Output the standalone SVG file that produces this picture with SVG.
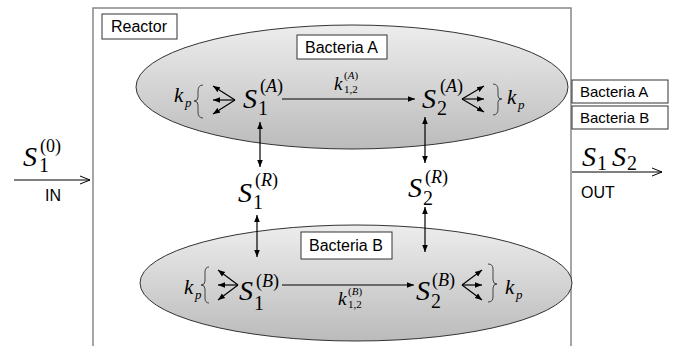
<svg xmlns="http://www.w3.org/2000/svg" width="675" height="346" viewBox="0 0 675 346">
  <style>
    .lbl { font-family: "Liberation Sans", Arial, sans-serif; font-size: 16px; fill: #000; }
    .leg { font-family: "Liberation Sans", Arial, sans-serif; font-size: 15px; fill: #000; }
    .box { fill: #fff; stroke: #333; stroke-width: 1; }
    .m { font-family: "Liberation Serif", "Times New Roman", serif; fill: #000; }
    .it { font-style: italic; }
    .big { font-size: 28px; font-style: italic; }
    .sub { font-size: 20px; }
    .sup { font-size: 18px; }
    .ln { stroke: #000; stroke-width: 1.2; fill: none; }
    .br { stroke: #444; stroke-width: 1; fill: none; }
    .cell { fill: url(#shade); stroke: #333; stroke-width: 1; }
  </style>
  <defs>
    <linearGradient id="shade" x1="0" y1="0" x2="0" y2="1">
      <stop offset="0" stop-color="#ededed"/>
      <stop offset="1" stop-color="#bbbbbb"/>
    </linearGradient>
    <marker id="ah" viewBox="0 0 10 10" refX="10" refY="5" markerWidth="7" markerHeight="7" orient="auto-start-reverse" markerUnits="userSpaceOnUse">
      <path d="M0,1 L10,5 L0,9 Z" fill="#000"/>
    </marker>
    <marker id="oh" viewBox="0 0 10 10" refX="10" refY="5" markerWidth="10" markerHeight="10" orient="auto" markerUnits="userSpaceOnUse">
      <path d="M0,1 L10,5 L0,9" fill="none" stroke="#000" stroke-width="1"/>
    </marker>
  </defs>

  <rect width="675" height="346" fill="#fff"/>

  <!-- reactor vessel -->
  <g id="reactor">
    <path d="M93,346 V8 H571 V346" fill="none" stroke="#888" stroke-width="1.5"/>
    <rect class="box" x="102" y="14" width="75" height="25"/>
    <text class="lbl" x="111" y="32">Reactor</text>
  </g>

  <!-- bacteria A cell -->
  <g id="bacteriaA">
    <ellipse class="cell" cx="352" cy="87" rx="216" ry="62"/>
    <rect class="box" x="297" y="35" width="90" height="24"/>
    <text class="lbl" x="305" y="53">Bacteria A</text>
  </g>

  <!-- bacteria B cell -->
  <g id="bacteriaB">
    <ellipse class="cell" cx="356" cy="283" rx="216" ry="58"/>
    <rect class="box" x="301" y="232" width="91" height="27"/>
    <text class="lbl" x="309" y="251">Bacteria B</text>
  </g>

  <!-- legend boxes -->
  <g id="legendA">
    <rect class="box" x="572" y="80" width="96" height="23"/>
    <text class="leg" x="580" y="97">Bacteria A</text>
  </g>
  <g id="legendB">
    <rect class="box" x="572" y="106" width="96" height="23"/>
    <text class="leg" x="580" y="123">Bacteria B</text>
  </g>

  <!-- feed and effluent -->
  <g id="S1in">
    <text class="m"><tspan class="big" x="23" y="166">S</tspan><tspan class="sub" x="39" y="172">1</tspan><tspan class="sup" x="40" y="152">(0)</tspan></text>
    <text class="lbl" x="45" y="201">IN</text>
  </g>
  <g id="Sout">
    <text class="m"><tspan class="big" x="582" y="166">S</tspan><tspan class="sub" x="597" y="170">1</tspan><tspan class="big" x="612" y="166">S</tspan><tspan class="sub" x="627" y="170">2</tspan></text>
    <text class="lbl" x="581" y="198">OUT</text>
  </g>

  <!-- substrate pools -->
  <g id="S1A">
    <text class="m"><tspan class="big" x="243" y="108">S</tspan><tspan class="sub" x="258" y="115">1</tspan><tspan class="sup" x="260" y="92">(</tspan><tspan class="sup it">A</tspan><tspan class="sup">)</tspan></text>
  </g>
  <g id="S2A">
    <text class="m"><tspan class="big" x="422" y="108">S</tspan><tspan class="sub" x="437" y="115">2</tspan><tspan class="sup" x="440" y="92">(</tspan><tspan class="sup it">A</tspan><tspan class="sup">)</tspan></text>
  </g>
  <g id="S1R">
    <text class="m"><tspan class="big" x="238" y="202">S</tspan><tspan class="sub" x="253" y="209">1</tspan><tspan class="sup" x="255" y="186">(</tspan><tspan class="sup it">R</tspan><tspan class="sup">)</tspan></text>
  </g>
  <g id="S2R">
    <text class="m"><tspan class="big" x="408" y="197">S</tspan><tspan class="sub" x="423" y="205">2</tspan><tspan class="sup" x="425" y="183">(</tspan><tspan class="sup it">R</tspan><tspan class="sup">)</tspan></text>
  </g>
  <g id="S1B">
    <text class="m"><tspan class="big" x="239" y="300">S</tspan><tspan class="sub" x="254" y="310">1</tspan><tspan class="sup" x="256" y="287">(</tspan><tspan class="sup it">B</tspan><tspan class="sup">)</tspan></text>
  </g>
  <g id="S2B">
    <text class="m"><tspan class="big" x="416" y="300">S</tspan><tspan class="sub" x="431" y="308">2</tspan><tspan class="sup" x="432" y="286">(</tspan><tspan class="sup it">B</tspan><tspan class="sup">)</tspan></text>
  </g>

  <!-- rate constants -->
  <g id="kA">
    <text class="m"><tspan class="it" font-size="19" x="334" y="90">k</tspan><tspan font-size="11" x="344" y="93">1,2</tspan><tspan font-size="11" x="344" y="79">(</tspan><tspan class="it" font-size="11">A</tspan><tspan font-size="11">)</tspan></text>
  </g>
  <g id="kB">
    <text class="m"><tspan class="it" font-size="19" x="338" y="305">k</tspan><tspan font-size="11" x="348" y="308">1,2</tspan><tspan font-size="11" x="348" y="295">(</tspan><tspan class="it" font-size="11">B</tspan><tspan font-size="11">)</tspan></text>
  </g>
  <g id="kpA1">
    <text class="m"><tspan class="it" font-size="21" x="174" y="102">k</tspan><tspan class="it" font-size="13" x="185" y="107">p</tspan></text>
    <path class="br" d="M203,85 Q198,85 198,91 V97 Q198,101 194,101 Q198,101 198,105 V112 Q198,118 203,118"/>
  </g>
  <g id="kpA2">
    <text class="m"><tspan class="it" font-size="21" x="507" y="104">k</tspan><tspan class="it" font-size="13" x="518" y="109">p</tspan></text>
    <path class="br" d="M493,84 Q498,84 498,90 V96 Q498,99 502,99 Q498,99 498,102 V109 Q498,115 493,115"/>
  </g>
  <g id="kpB1">
    <text class="m"><tspan class="it" font-size="21" x="184" y="294">k</tspan><tspan class="it" font-size="13" x="195" y="299">p</tspan></text>
    <path class="br" d="M209,267 Q205,267 205,272 V281 Q205,285 201,285 Q205,285 205,289 V298 Q205,303 209,303"/>
  </g>
  <g id="kpB2">
    <text class="m"><tspan class="it" font-size="21" x="505" y="294">k</tspan><tspan class="it" font-size="13" x="516" y="299">p</tspan></text>
    <path class="br" d="M488,264 Q493,264 493,269 V280 Q493,284 497,284 Q493,284 493,288 V297 Q493,302 488,302"/>
  </g>

  <!-- connectors -->
  <g id="connectors">
    <line x1="14" y1="180" x2="90" y2="180" class="ln" marker-end="url(#oh)"/>
    <line x1="572" y1="172" x2="662" y2="172" class="ln" marker-end="url(#oh)"/>

    <line x1="282" y1="99" x2="415" y2="99" class="ln" marker-end="url(#ah)"/>
    <line x1="282" y1="285" x2="414" y2="285" class="ln" marker-end="url(#ah)"/>

    <line x1="260" y1="122" x2="260" y2="167" class="ln" marker-start="url(#ah)" marker-end="url(#ah)"/>
    <line x1="425" y1="117" x2="425" y2="163" class="ln" marker-start="url(#ah)" marker-end="url(#ah)"/>
    <line x1="257" y1="215" x2="257" y2="257" class="ln" marker-start="url(#ah)" marker-end="url(#ah)"/>
    <line x1="425" y1="207" x2="425" y2="252" class="ln" marker-start="url(#ah)" marker-end="url(#ah)"/>

    <!-- fan-out arrows -->
    <line x1="235" y1="100" x2="213" y2="86" class="ln" marker-end="url(#ah)"/>
    <line x1="235" y1="100" x2="213" y2="100" class="ln" marker-end="url(#ah)"/>
    <line x1="235" y1="100" x2="213" y2="114" class="ln" marker-end="url(#ah)"/>

    <line x1="462" y1="99" x2="484" y2="86" class="ln" marker-end="url(#ah)"/>
    <line x1="462" y1="99" x2="484" y2="99" class="ln" marker-end="url(#ah)"/>
    <line x1="462" y1="99" x2="484" y2="112" class="ln" marker-end="url(#ah)"/>

    <line x1="238" y1="285" x2="218" y2="270" class="ln" marker-end="url(#ah)"/>
    <line x1="238" y1="285" x2="218" y2="285" class="ln" marker-end="url(#ah)"/>
    <line x1="238" y1="285" x2="218" y2="300" class="ln" marker-end="url(#ah)"/>

    <line x1="462" y1="285" x2="482" y2="270" class="ln" marker-end="url(#ah)"/>
    <line x1="462" y1="285" x2="482" y2="285" class="ln" marker-end="url(#ah)"/>
    <line x1="462" y1="285" x2="482" y2="300" class="ln" marker-end="url(#ah)"/>
  </g>
</svg>
